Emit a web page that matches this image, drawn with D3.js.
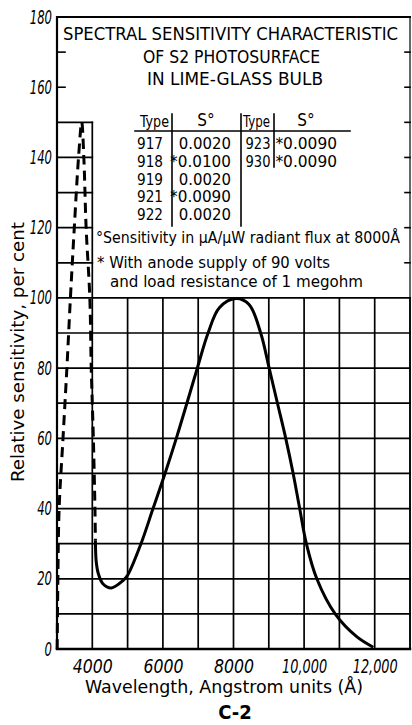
<!DOCTYPE html>
<html><head><meta charset="utf-8">
<script src="https://cdn.jsdelivr.net/npm/d3@7"></script>
<style>
body{margin:0;background:#fff}
svg{display:block}
text{font-family:"DejaVu Sans Condensed","DejaVu Sans",sans-serif;fill:#000}
</style>
</head><body>
<svg id="c" width="412" height="725"></svg>
<script>
// ---- data ----
const xTicks = [4000, 6000, 8000, 10000, 12000];
const xTickLabels = ["4000", "6000", "8000", "10,000", "12,000"];
const yTicks = [0, 20, 40, 60, 80, 100, 120, 140, 160, 180];
const xGridValues = [4000, 5000, 6000, 7000, 8000, 9000, 10000, 11000, 12000, 13000];
const yGridValues = [10, 20, 30, 40, 50, 60, 70, 80, 90, 100];
const boxGridValues = [110, 120, 130, 140, 150];
const sideTickValues = [110, 120, 130, 140, 150, 160, 170];

// dashed curve (short-wavelength response through bulb)
const dashedX = [3005, 3025, 3060, 3170, 3280, 3380, 3490, 3610, 3700, 3760, 3825, 3930, 3970, 4030, 4075, 4088];
const dashedY = [0, 20, 40, 60, 80, 100, 120, 140, 150, 140, 120, 100, 80, 60, 40, 31];

// solid curve
const solidX = [4088, 4110, 4170, 4300, 4540, 4870, 5000, 5380, 5720, 6060, 6380, 6680, 6975, 7280, 7600, 8070, 8440, 8770, 9010, 9245, 9480, 9690, 9875, 10064, 10360, 10880, 11490, 11960];
const solidY = [31, 25, 21.5, 18.6, 17.4, 19.5, 21, 30, 40, 50, 60, 70, 80, 90, 97.2, 99.8, 98.1, 90, 80, 70, 60, 50, 40, 30, 20, 10, 3.5, 0.5];

const titleLines = ["SPECTRAL SENSITIVITY CHARACTERISTIC", "OF S2 PHOTOSURFACE", "IN LIME-GLASS BULB"];
const tableHeader = ["Type", "S\u00B0", "Type", "S\u00B0"];
const tableTypes1 = ["917", "918", "919", "921", "922"];
const tableS1 = ["0.0020", "*0.0100", "0.0020", "*0.0090", "0.0020"];
const tableTypes2 = ["923", "930"];
const tableS2 = ["*0.0090", "*0.0090"];
const notes = ["\u00B0Sensitivity in \u00B5A/\u00B5W radiant flux at 8000\u00C5", "* With anode supply of 90 volts", "and load resistance of 1 megohm"];

// ---- drawing ----
const svg = d3.select("#c");
const x = d3.scaleLinear().domain([3000, 13000]).range([57, 410]);
const y = d3.scaleLinear().domain([0, 180]).range([649, 17]);

const g = svg.append("g");
const ln = (x1, y1, x2, y2, w) => g.append("line").attr("x1", x1).attr("y1", y1).attr("x2", x2).attr("y2", y2)
  .attr("stroke", "#000").attr("stroke-width", w).attr("stroke-linecap", "square");

// grid
yGridValues.forEach(v => ln(x(3000), y(v), x(13000), y(v), 1.7));
boxGridValues.forEach(v => ln(x(3000), y(v), x(4000), y(v), 1.7));
xGridValues.forEach(v => ln(x(v), y(0), x(v), y(v === 4000 ? 150 : 100), 1.7));
// frame
ln(x(3000), y(0), x(3000), y(180), 2.2);
ln(x(3000), y(0), x(13000), y(0), 2.4);
ln(x(3000), y(180), x(13000), y(180), 2);
ln(x(13000), y(0), x(13000), y(180), 1.2);
// side ticks
[160, 170].forEach(v => ln(x(3000), y(v), x(3000) + 8, y(v), 1.6));
sideTickValues.forEach(v => ln(x(13000) - 5, y(v), x(13000), y(v), 1.6));

// curves
const dashedData = dashedX.map((d, i) => [d, dashedY[i]]);
const solidData = solidX.map((d, i) => [d, solidY[i]]);
g.append("path").datum(dashedData)
  .attr("d", d3.line().x(d => x(d[0])).y(d => y(d[1])).curve(d3.curveCatmullRom.alpha(0.5)))
  .attr("fill", "none").attr("stroke", "#000").attr("stroke-width", 3).attr("stroke-dasharray", "10,6");
g.append("path").datum(solidData)
  .attr("d", d3.line().x(d => x(d[0])).y(d => y(d[1])).curve(d3.curveCatmullRom.alpha(0.5)))
  .attr("fill", "none").attr("stroke", "#000").attr("stroke-width", 3).attr("stroke-linejoin", "round");

// axes (labels only)
const yAx = svg.append("g").attr("transform", `translate(${x(3000)},0)`)
  .call(d3.axisLeft(y).tickValues(yTicks).tickSize(0).tickPadding(5));
yAx.select(".domain").remove();
yAx.selectAll("text").attr("font-size", 19).attr("font-style", "italic")
  .attr("font-family", "'DejaVu Sans Condensed', sans-serif")
  .attr("textLength", d => String(d).length * 7.4).attr("lengthAdjust", "spacingAndGlyphs");

const xAx = svg.append("g").attr("transform", `translate(0,${y(0)})`)
  .call(d3.axisBottom(x).tickValues(xTicks).tickFormat((d, i) => xTickLabels[i]).tickSize(0));
xAx.select(".domain").remove();
xAx.selectAll("text").attr("font-size", 19).attr("font-style", "italic")
  .attr("font-family", "'DejaVu Sans Condensed', sans-serif")
  .attr("y", 24).attr("dy", 0)
  .attr("textLength", (d, i) => xTickLabels[i].length > 4 ? 45 : 40).attr("lengthAdjust", "spacingAndGlyphs");

// text helper
function txt(xp, yp, s, opt = {}) {
  const t = svg.append("text").attr("x", xp).attr("y", yp).text(s)
    .attr("font-size", opt.size || 16).attr("text-anchor", opt.anchor || "start");
  if (opt.len) t.attr("textLength", opt.len).attr("lengthAdjust", "spacingAndGlyphs");
  if (opt.weight) t.attr("font-weight", opt.weight);
  if (opt.style) t.attr("font-style", opt.style);
  return t;
}

// title block
txt(63, 40, titleLines[0], {size: 17, len: 335});
txt(143, 63, titleLines[1], {size: 17, len: 177});
txt(147, 85, titleLines[2], {size: 17, len: 176});

// table
txt(140, 127, tableHeader[0], {size: 16, len: 29});
txt(206, 126, tableHeader[1], {size: 17, anchor: "middle"});
txt(243, 127, tableHeader[2], {size: 16, len: 27});
txt(306, 126, tableHeader[3], {size: 17, anchor: "middle"});
ln(135, 131, 350, 131, 1.6);
ln(172, 114, 172, 226, 1.6);
ln(241, 114, 241, 226, 1.6);
ln(274, 114, 274, 167, 1.6);
tableTypes1.forEach((s, i) => txt(150, 149 + i * 17.8, s, {size: 15, anchor: "middle", len: 26}));
tableS1.forEach((s, i) => txt(231, 149 + i * 17.8, s, {size: 15, anchor: "end", len: s.length * 8.7}));
tableTypes2.forEach((s, i) => txt(258, 149 + i * 17.8, s, {size: 15, anchor: "middle", len: 25}));
tableS2.forEach((s, i) => txt(337, 149 + i * 17.8, s, {size: 15, anchor: "end", len: s.length * 8.8}));

// notes
txt(96, 243, notes[0], {size: 16, len: 304});
txt(97, 268, notes[1], {size: 16, len: 233});
txt(110, 287, notes[2], {size: 16, len: 253});

// axis titles
txt(224, 693, "Wavelength, Angstrom units (\u00C5)", {size: 17, anchor: "middle", len: 278});
svg.append("text").attr("transform", "translate(24,352) rotate(-90)")
  .attr("text-anchor", "middle").attr("font-size", 17)
  .attr("textLength", 260).attr("lengthAdjust", "spacingAndGlyphs")
  .text("Relative sensitivity, per cent");
txt(235, 719, "C-2", {size: 20, anchor: "middle", weight: "bold"});
</script>
</body></html>
